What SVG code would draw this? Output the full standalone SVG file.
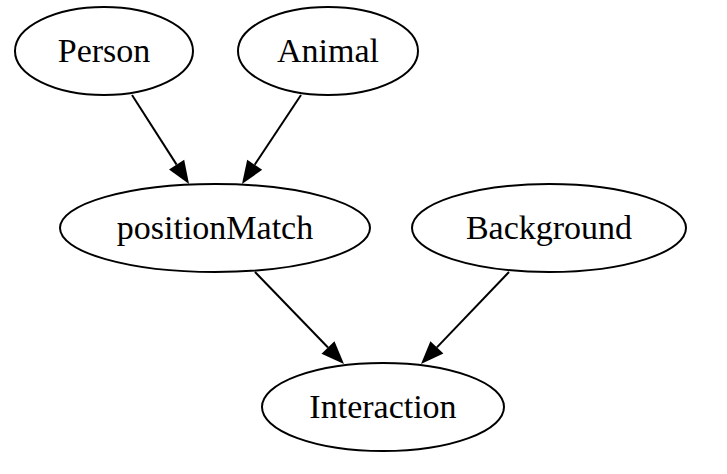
<svg xmlns="http://www.w3.org/2000/svg" width="727" height="474" viewBox="0 0 727 474">
<style>
.node ellipse{fill:#fff;stroke:#000;stroke-width:2}
.node text{font-family:"Liberation Serif","Times New Roman",serif;font-size:34px;fill:#000;text-anchor:middle}
.edge{stroke:#000;stroke-width:2;fill:none}
</style>
<defs>
<marker id="ah" markerUnits="userSpaceOnUse" markerWidth="23" markerHeight="18" refX="0" refY="9" orient="auto" overflow="visible">
<path d="M0,0 L23,9 L0,18 z" fill="#000"/>
</marker>
</defs>
<rect width="727" height="474" fill="#fff"/>
<g id="connectors">
<line class="edge" x1="132" y1="95" x2="176.6" y2="164.6" marker-end="url(#ah)"/>
<line class="edge" x1="301" y1="95" x2="254.7" y2="164.8" marker-end="url(#ah)"/>
<line class="edge" x1="255" y1="272" x2="328" y2="347.5" marker-end="url(#ah)"/>
<line class="edge" x1="509" y1="272" x2="436.9" y2="347.4" marker-end="url(#ah)"/>
</g>
<g id="person" class="node"><ellipse cx="104" cy="51" rx="89" ry="44"/><text x="104" y="62">Person</text></g>
<g id="animal" class="node"><ellipse cx="328" cy="51" rx="90" ry="44"/><text x="328" y="62">Animal</text></g>
<g id="positionMatch" class="node"><ellipse cx="215" cy="228" rx="155" ry="44"/><text x="215" y="239">positionMatch</text></g>
<g id="background" class="node"><ellipse cx="549" cy="228" rx="137" ry="44"/><text x="549" y="239">Background</text></g>
<g id="interaction" class="node"><ellipse cx="383" cy="407" rx="121" ry="44"/><text x="383" y="418">Interaction</text></g>
</svg>
